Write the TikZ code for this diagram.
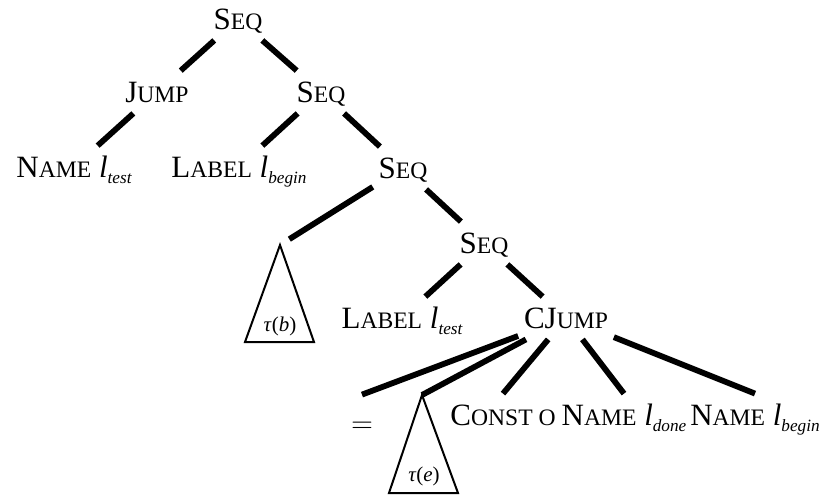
\documentclass[tikz,border=0pt]{standalone}
\usepackage{fontspec}
\setmainfont{Liberation Serif}
\newcommand\smc[2]{#1{\fontsize{11.8pt}{11.8pt}\selectfont #2}}
\newcommand\lsub[1]{\textit{l}\raisebox{-3pt}{\fontsize{8.6pt}{8.6pt}\selectfont\itshape #1}}
\begin{document}
\begin{tikzpicture}[x=0.5pt,y=-0.5pt,
  lbl/.style={anchor=base, inner xsep=2.75pt, inner ysep=5.5pt, text height=10pt, text depth=0pt,
    font=\fontsize{15.5pt}{15.5pt}\selectfont},
  edge/.style={line width=2.9pt},
  tri/.style={line width=1pt, line join=miter},
  trilbl/.style={inner sep=0pt, font=\fontsize{10.5pt}{10.5pt}\selectfont}]
\useasboundingbox (0,0) rectangle (821,495);
% nodes
\node[lbl] (s1) at (238,29) {\smc{S}{EQ}};
\node[lbl] (jump) at (157,102) {\smc{J}{UMP}};
\node[lbl] (s2) at (321,102) {\smc{S}{EQ}};
\node[lbl] (nt) at (74,177) {\smc{N}{AME} \lsub{test}};
\node[lbl] (lb) at (239,177) {\smc{L}{ABEL} \lsub{begin}};
\node[lbl] (s3) at (403,178) {\smc{S}{EQ}};
\node[lbl] (s4) at (484,253) {\smc{S}{EQ}};
\node[lbl] (lt) at (402,328) {\smc{L}{ABEL} \lsub{test}};
\node[lbl] (cj) at (566,328) {\smc{CJ}{UMP}};
\node[lbl, inner ysep=8.5pt] (eq) at (362,432) {$=$};
\node[lbl] (co) at (503,425) {\smc{C}{ONST O}};
\node[lbl] (nd) at (624,425) {\smc{N}{AME} \lsub{done}};
\node[lbl] (nb) at (755,425) {\smc{N}{AME} \lsub{begin}};
% triangles
\coordinate (bt) at (280,245);
\coordinate (bl) at (245,342);
\coordinate (br) at (314,342);
\draw[tri] (bt) -- (bl) -- (br) -- cycle;
\node[trilbl] (tb) at (280,326) {\textit{τ}(\textit{b})};
\coordinate (et) at (422,395);
\coordinate (el) at (389,493);
\coordinate (er) at (458,493);
\draw[tri] (et) -- (el) -- (er) -- cycle;
\node[trilbl] (te) at (424,476) {\textit{τ}(\textit{e})};
% edges
\draw[edge] (s1) -- (jump);
\draw[edge] (s1) -- (s2);
\draw[edge] (jump) -- (nt);
\draw[edge] (s2) -- (lb);
\draw[edge] (s2) -- (s3);
\draw[edge, shorten >=5.5pt] (s3) -- (bt);
\draw[edge] (s3) -- (s4);
\draw[edge] (s4) -- (lt);
\draw[edge] (s4) -- (cj);
\draw[edge] (cj) -- (eq.north);
\draw[edge] (cj) -- (et);
\draw[edge] (cj) -- (co.north);
\draw[edge] (cj) -- (nd.north);
\draw[edge] (cj) -- (nb.north);
\end{tikzpicture}
\end{document}
